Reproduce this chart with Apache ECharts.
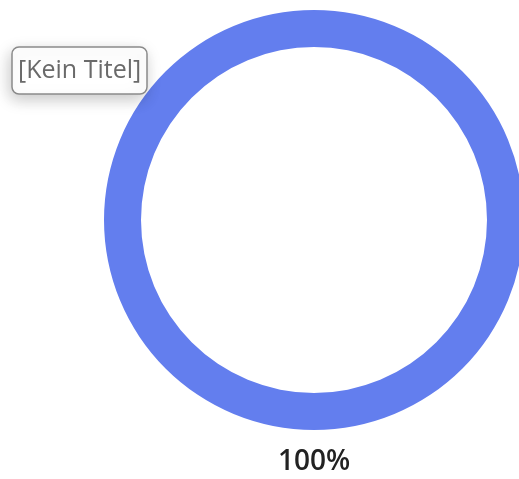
<!DOCTYPE html>
<html><head><meta charset="utf-8">
<script src="https://cdn.jsdelivr.net/npm/echarts@6/dist/echarts.min.js"></script>
<style>html,body{margin:0;padding:0;background:#fff}#c{width:519px;height:479px}</style>
</head><body><div id="c"></div>
<script>
const categories = ['[Kein Titel]'];
const values = [1];
const titleText = '[Kein Titel]';
const total = values.reduce((a, b) => a + b, 0);
const pctLabel = Math.round(values[0] / total * 100) + '%';

const chart = echarts.init(document.getElementById('c'));
chart.setOption({
  animation: false,
  title: [{
    text: titleText,
    left: 12, top: 47,
    padding: [9, 6, 9, 6],
    backgroundColor: '#fff',
    borderColor: '#8a8a8a',
    borderWidth: 1.5,
    borderRadius: 7,
    shadowBlur: 16,
    shadowColor: 'rgba(0,0,0,0.22)',
    shadowOffsetX: -2,
    shadowOffsetY: 5,
    textStyle: { fontFamily: 'Open Sans', fontSize: 25, lineHeight: 29, fontWeight: 'normal', color: '#6a6a6a' }
  }, {
    text: pctLabel,
    left: 314, top: 448, textAlign: 'center',
    padding: 0,
    textStyle: { fontFamily: 'Open Sans', fontSize: 28, fontWeight: 600, color: '#222' }
  }],
  series: [{
    type: 'pie',
    center: [314, 220],
    radius: [173, 210],
    silent: true,
    label: { show: false },
    labelLine: { show: false },
    itemStyle: { color: '#637EEE' },
    data: categories.map((c, i) => ({ name: c, value: values[i] }))
  }]
});
</script></body></html>
